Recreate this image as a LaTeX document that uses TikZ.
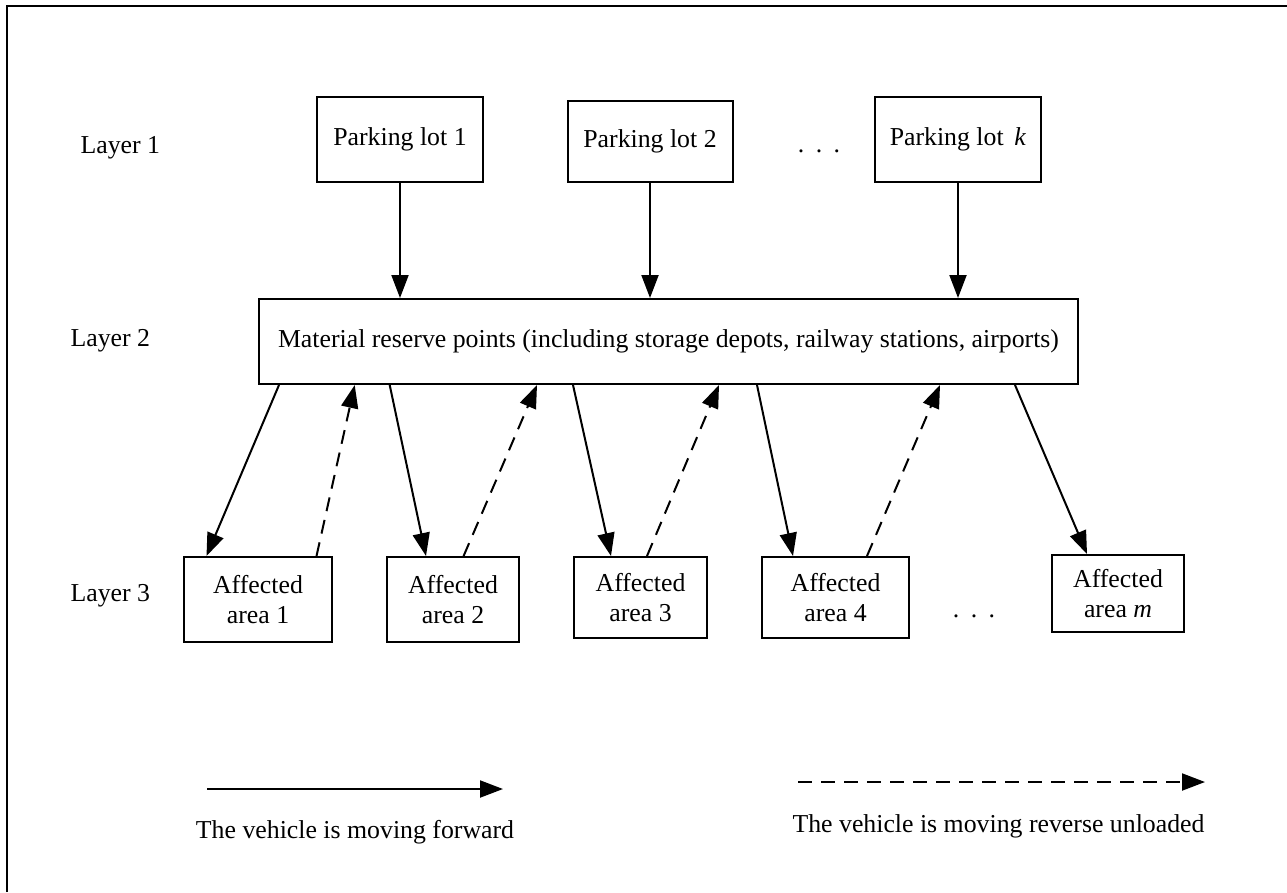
\documentclass[tikz,border=0pt]{standalone}
\usepackage{fontspec}
\setmainfont{Liberation Serif}
\usetikzlibrary{arrows.meta}
\begin{document}
\begin{tikzpicture}[x=1pt,y=-1pt,
  every node/.style={font=\fontsize{25.8}{30}\selectfont},
  boxnode/.style={draw,line width=2pt,inner sep=0pt,align=center},
  fwd/.style={line width=2pt,-{Triangle[length=23pt,width=17pt]}},
  back/.style={line width=2pt,dash pattern=on 14pt off 9pt,-{Triangle[length=23pt,width=17pt]}}]
\useasboundingbox (0,0) rectangle (1287,892);
\fill[white] (0,0) rectangle (1287,892);
\draw[line width=2.8pt] (7,892) -- (7,6) -- (1287,6);
% layer labels
\node[anchor=west] (l1) at (77,148) {Layer 1};
\node[anchor=west] (l2) at (67,341) {Layer 2};
\node[anchor=west] (l3) at (67,596) {Layer 3};
% layer 1
\node[boxnode,minimum width=166pt,minimum height=85pt] (p1) at (400,139.5) {Parking lot 1};
\node[boxnode,minimum width=165pt,minimum height=81pt] (p2) at (650,141.5) {Parking lot 2};
\node[boxnode,minimum width=166pt,minimum height=85pt] (pk) at (958,139.5) {Parking lot \,\textit{k}};
\node (dots1) at (819,151) {.\hspace{11.5pt}.\hspace{11.5pt}.};
% layer 2
\node[boxnode,minimum width=819pt,minimum height=85pt] (main) at (668.5,341.5) {Material reserve points (including storage depots, railway stations, airports)};
% layer 3
\node[boxnode,minimum width=148pt,minimum height=85pt] (a1) at (258,599.5) {Affected\\area 1};
\node[boxnode,minimum width=132pt,minimum height=85pt] (a2) at (453,599.5) {Affected\\area 2};
\node[boxnode,minimum width=133pt,minimum height=81pt] (a3) at (640.5,597.5) {Affected\\area 3};
\node[boxnode,minimum width=147pt,minimum height=81pt] (a4) at (835.5,597.5) {Affected\\area 4};
\node[boxnode,minimum width=132pt,minimum height=77pt] (am) at (1118,593.5) {Affected\\area \textit{m}};
\node (dots2) at (974,616) {.\hspace{11.5pt}.\hspace{11.5pt}.};
% layer 1 -> layer 2
\draw[fwd] (p1.south) -- (p1.south |- main.north);
\draw[fwd] (p2.south) -- (p2.south |- main.north);
\draw[fwd] (pk.south) -- (pk.south |- main.north);
% layer 2 <-> layer 3
\draw[fwd] ([xshift=21pt]main.south west) -- ([xshift=23.5pt]a1.north west);
\draw[back] ([xshift=133.5pt]a1.north west) -- ([xshift=96.7pt]main.south west);
\draw[fwd] ([xshift=131.7pt]main.south west) -- ([xshift=40pt]a2.north west);
\draw[back] ([xshift=77.6pt]a2.north west) -- ([xshift=279pt]main.south west);
\draw[fwd] ([xshift=315pt]main.south west) -- ([xshift=38pt]a3.north west);
\draw[back] ([xshift=74pt]a3.north west) -- ([xshift=461pt]main.south west);
\draw[fwd] ([xshift=499pt]main.south west) -- ([xshift=32pt]a4.north west);
\draw[back] ([xshift=106pt]a4.north west) -- ([xshift=682pt]main.south west);
\draw[fwd] ([xshift=757pt]main.south west) -- ([xshift=36pt]am.north west);
% legend
\coordinate (ls) at (207,789);
\coordinate (le) at (503,789);
\coordinate (ds) at (798,782);
\coordinate (de) at (1205,782);
\draw[fwd] (ls) -- (le);
\draw[back] (ds) -- (de);
\node (t1) at (355,832) {The vehicle is moving forward};
\node (t2) at (998.5,826) {The vehicle is moving reverse unloaded};
\end{tikzpicture}
\end{document}
